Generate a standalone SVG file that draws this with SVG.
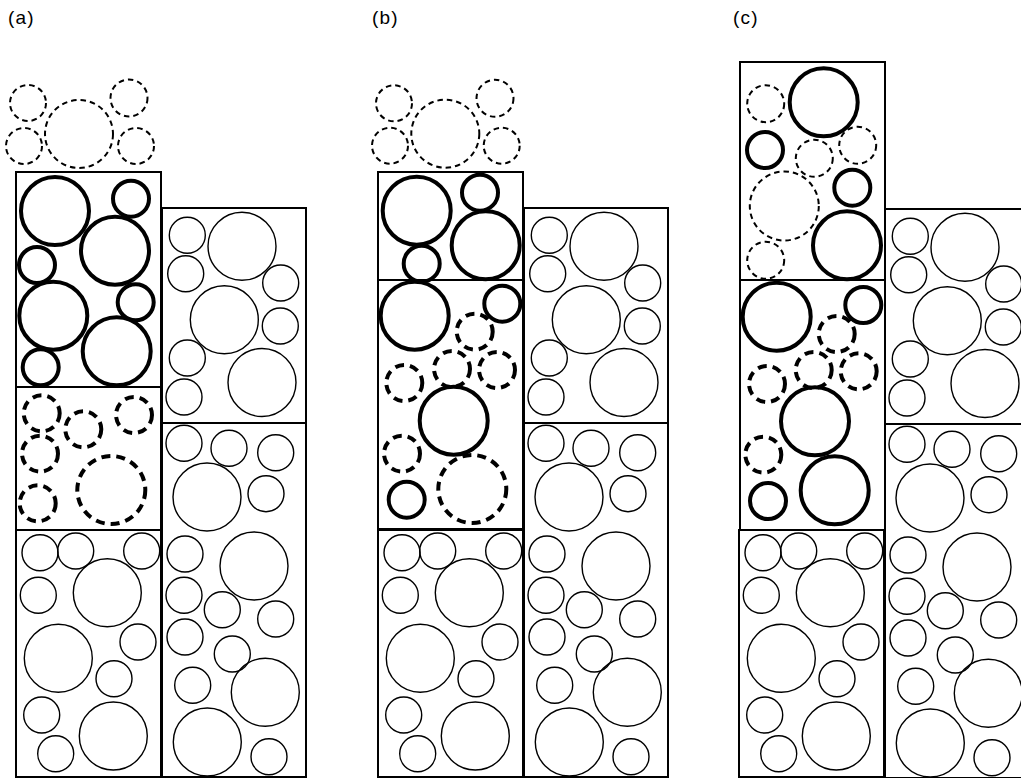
<svg xmlns="http://www.w3.org/2000/svg" xmlns:xlink="http://www.w3.org/1999/xlink" width="1021" height="778" viewBox="0 0 1021 778">
<style>
  .box { fill: none; stroke: #000; stroke-width: 2; }
  circle { fill: none; stroke: #000; }
  .t { stroke-width: 1.4; }
  .k { stroke-width: 4; }
  .dt { stroke-width: 2; stroke-dasharray: 5.5 4; }
  .dk { stroke-width: 4; stroke-dasharray: 9 6; }
  .lbl { font-family: "Liberation Sans", Arial, sans-serif; font-size: 19px; letter-spacing: 1.2px; fill: #000; }
</style>
<defs>
  <g id="rightCol">
    <rect class="box" x="162" y="208" width="144" height="215"/>
    <rect class="box" x="162" y="423" width="144" height="354"/>
    <circle class="t" cx="187.3" cy="235.3" r="18"/>
    <circle class="t" cx="242" cy="246.3" r="34"/>
    <circle class="t" cx="185.7" cy="273.7" r="18"/>
    <circle class="t" cx="280.7" cy="283" r="18"/>
    <circle class="t" cx="224.3" cy="319.7" r="34"/>
    <circle class="t" cx="280.3" cy="326" r="18"/>
    <circle class="t" cx="187.3" cy="358" r="18"/>
    <circle class="t" cx="262" cy="382.5" r="34"/>
    <circle class="t" cx="184" cy="397" r="18"/>
    <circle class="t" cx="184" cy="443.3" r="18"/>
    <circle class="t" cx="229" cy="448.3" r="18"/>
    <circle class="t" cx="275.7" cy="452.7" r="18"/>
    <circle class="t" cx="207" cy="497" r="34"/>
    <circle class="t" cx="266" cy="493.7" r="18"/>
    <circle class="t" cx="185" cy="554" r="18"/>
    <circle class="t" cx="254" cy="566" r="34"/>
    <circle class="t" cx="184" cy="595.3" r="18"/>
    <circle class="t" cx="222.3" cy="609.7" r="18"/>
    <circle class="t" cx="275.7" cy="619" r="18"/>
    <circle class="t" cx="185" cy="637" r="18"/>
    <circle class="t" cx="232.3" cy="654" r="18"/>
    <circle class="t" cx="192.7" cy="685.3" r="18"/>
    <circle class="t" cx="265.3" cy="692.3" r="34"/>
    <circle class="t" cx="207.3" cy="742" r="34"/>
    <circle class="t" cx="269" cy="756.7" r="18"/>
  </g>
  <g id="bottomBox">
    <rect class="box" x="16" y="530" width="145" height="247"/>
    <circle class="t" cx="40" cy="552.7" r="18"/>
    <circle class="t" cx="75.7" cy="551" r="18"/>
    <circle class="t" cx="141.7" cy="551" r="18"/>
    <circle class="t" cx="107.3" cy="592.7" r="34"/>
    <circle class="t" cx="38.3" cy="595.3" r="18"/>
    <circle class="t" cx="58.3" cy="658.3" r="34"/>
    <circle class="t" cx="138" cy="642" r="18"/>
    <circle class="t" cx="114" cy="678.7" r="18"/>
    <circle class="t" cx="41.7" cy="715" r="18"/>
    <circle class="t" cx="113.3" cy="736" r="34"/>
    <circle class="t" cx="55.7" cy="753.7" r="18"/>
  </g>
</defs>

<g id="labels">
  <text class="lbl" x="8" y="24">(a)</text>
  <text class="lbl" x="372" y="24">(b)</text>
  <text class="lbl" x="733" y="24">(c)</text>
</g>

<g id="panel-a">
  <g id="a-top-loose">
    <circle class="dt" cx="28" cy="103" r="18"/>
    <circle class="dt" cx="79" cy="134" r="34"/>
    <circle class="dt" cx="129" cy="98" r="18.5"/>
    <circle class="dt" cx="24" cy="146" r="18"/>
    <circle class="dt" cx="136" cy="146" r="18"/>
  </g>
  <g id="a-box1">
    <rect class="box" x="16" y="172" width="145" height="215"/>
    <circle class="k" cx="55" cy="211" r="34"/>
    <circle class="k" cx="131" cy="198.7" r="18"/>
    <circle class="k" cx="115" cy="250.7" r="34"/>
    <circle class="k" cx="37" cy="265" r="18"/>
    <circle class="k" cx="53.3" cy="315.7" r="34"/>
    <circle class="k" cx="135.7" cy="302.3" r="18"/>
    <circle class="k" cx="116.7" cy="351.3" r="34"/>
    <circle class="k" cx="40.7" cy="367.3" r="18"/>
  </g>
  <g id="a-box2">
    <rect class="box" x="16" y="387" width="145" height="143"/>
    <circle class="dk" cx="41.7" cy="413.3" r="18"/>
    <circle class="dk" cx="83.3" cy="429.3" r="18"/>
    <circle class="dk" cx="134" cy="415" r="18"/>
    <circle class="dk" cx="40" cy="453.7" r="18"/>
    <circle class="dk" cx="111.3" cy="490" r="34"/>
    <circle class="dk" cx="37.7" cy="503.3" r="18"/>
  </g>
  <g id="a-box3"><use xlink:href="#bottomBox"/></g>
  <g id="a-right"><use xlink:href="#rightCol"/></g>
</g>

<g id="panel-b">
  <g id="b-top-loose">
    <circle class="dt" cx="394" cy="103.3" r="18"/>
    <circle class="dt" cx="445.3" cy="133.7" r="34"/>
    <circle class="dt" cx="495" cy="98.3" r="18.5"/>
    <circle class="dt" cx="390" cy="145.7" r="18"/>
    <circle class="dt" cx="501.7" cy="145.7" r="18"/>
  </g>
  <g id="b-box1">
    <rect class="box" x="378" y="172" width="145" height="108"/>
    <circle class="k" cx="416.7" cy="210.7" r="34"/>
    <circle class="k" cx="480" cy="192.7" r="18"/>
    <circle class="k" cx="485.7" cy="245.3" r="34"/>
    <circle class="k" cx="421.7" cy="263.7" r="18"/>
  </g>
  <g id="b-box2">
    <rect class="box" x="378" y="280" width="145" height="249"/>
    <circle class="k" cx="414.7" cy="315.7" r="34"/>
    <circle class="k" cx="502.3" cy="303.7" r="18"/>
    <circle class="dk" cx="474.7" cy="331.7" r="18"/>
    <circle class="dk" cx="452" cy="369" r="18"/>
    <circle class="dk" cx="497" cy="370" r="18"/>
    <circle class="dk" cx="404.3" cy="383" r="18"/>
    <circle class="k" cx="453.7" cy="420.7" r="34"/>
    <circle class="dk" cx="402" cy="453.7" r="18"/>
    <circle class="dk" cx="472.3" cy="489" r="34"/>
    <circle class="k" cx="406.7" cy="499.7" r="18"/>
  </g>
  <g id="b-box3"><use xlink:href="#bottomBox" transform="translate(362,0)"/></g>
  <g id="b-right"><use xlink:href="#rightCol" transform="translate(362,0)"/></g>
</g>

<g id="panel-c">
  <g id="c-box1">
    <rect class="box" x="740" y="62" width="145" height="218"/>
    <circle class="dt" cx="765.7" cy="103.7" r="18.5"/>
    <circle class="k" cx="823.7" cy="102.3" r="34"/>
    <circle class="k" cx="765" cy="150" r="18"/>
    <circle class="dt" cx="814.3" cy="158.3" r="18.5"/>
    <circle class="dt" cx="857.7" cy="145.3" r="18.5"/>
    <circle class="dt" cx="784.3" cy="206" r="34.5"/>
    <circle class="k" cx="852.3" cy="187.7" r="18"/>
    <circle class="k" cx="847" cy="245.3" r="34"/>
    <circle class="dt" cx="765.7" cy="260.3" r="18.5"/>
  </g>
  <g id="c-box2">
    <rect class="box" x="740" y="280" width="145" height="250"/>
    <circle class="k" cx="776.7" cy="316.7" r="34"/>
    <circle class="k" cx="863.3" cy="305" r="18"/>
    <circle class="dk" cx="836.7" cy="334" r="18"/>
    <circle class="dk" cx="813.7" cy="370" r="18"/>
    <circle class="dk" cx="858.7" cy="371.3" r="18"/>
    <circle class="dk" cx="767" cy="384" r="18"/>
    <circle class="k" cx="815" cy="421.3" r="34"/>
    <circle class="dk" cx="763.3" cy="454.7" r="18"/>
    <circle class="k" cx="834.7" cy="490.3" r="34"/>
    <circle class="k" cx="768" cy="501" r="18"/>
  </g>
  <g id="c-box3"><use xlink:href="#bottomBox" transform="translate(723,0)"/></g>
  <g id="c-right"><use xlink:href="#rightCol" transform="translate(723,1)"/></g>
</g>
</svg>
